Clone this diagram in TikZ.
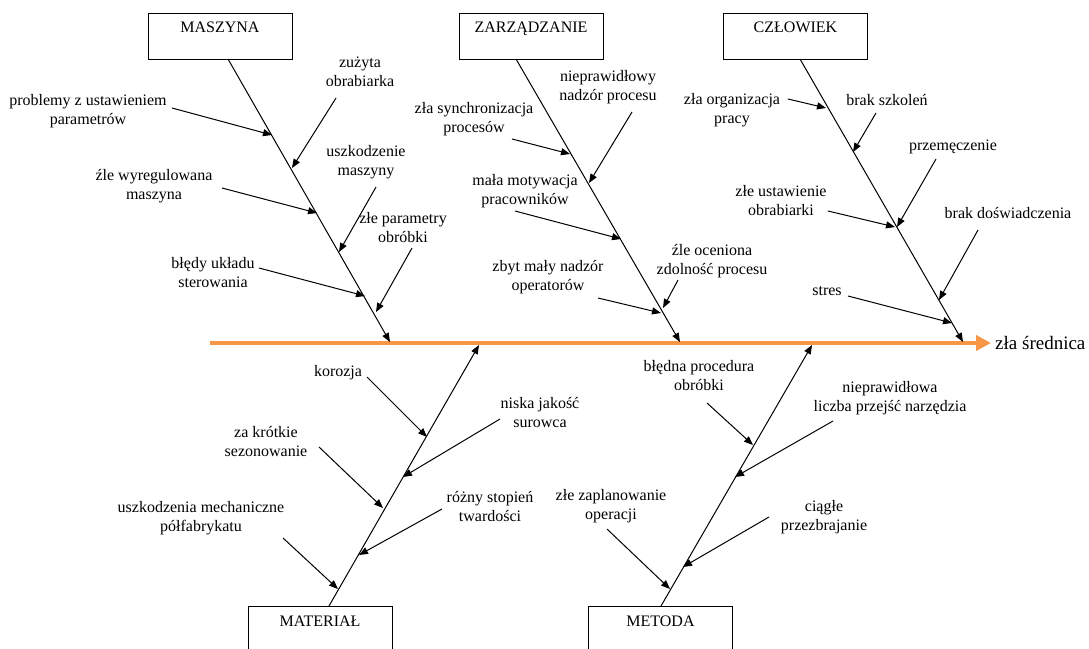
\documentclass[tikz,border=0pt]{standalone}
\usepackage{fontspec}
\setmainfont{Liberation Serif}
\usetikzlibrary{arrows.meta}
\definecolor{spineorange}{HTML}{F79646}
\tikzset{
  lbl/.style={align=center, font=\fontsize{16}{19}\selectfont, inner sep=0pt},
  cat/.style={draw, line width=1pt, minimum width=144pt, text height=15pt, text depth=23pt, inner sep=4pt, font=\fontsize{16}{19}\selectfont, anchor=north},
  catb/.style={cat, text height=16pt, text depth=44pt},
  arr/.style={line width=1pt, -{Triangle[length=9pt,width=7pt]}},
  bone/.style={line width=1pt, -{Triangle[length=9pt,width=7pt]}},
  spine/.style={line width=4pt, spineorange, -{Triangle[length=15pt,width=15pt]}},
  effect/.style={anchor=west, inner sep=4pt, font=\fontsize{19}{22}\selectfont}
}
\newcommand\fbc[5]{%
  \node[lbl] (#1) at (#2) {#3};
  \coordinate (#1s) at (#4);
  \coordinate (#1e) at (#5);
  \draw[arr] (#1s) -- (#1e);}
\begin{document}
\begin{tikzpicture}[x=1pt,y=-1pt]
\useasboundingbox (0,0) rectangle (1089,648);
\clip (0,0) rectangle (1089,648);

% spine and effect
\node[effect] (eff) at (991,343) {zła średnica};
\coordinate (sp0) at (210,343);
\draw[spine] (sp0) -- (eff.west);

% category boxes
\node[cat] (mbox) at (220,13) {MASZYNA};
\node[cat] (zbox) at (531,13) {ZARZĄDZANIE};
\node[cat] (cbox) at (795.5,13) {CZŁOWIEK};
\node[catb] (tbox) at (320,606) {MATERIAŁ};
\node[catb] (ebox) at (660.5,606) {METODA};

% bones
\coordinate (mb) at (228,59);   \coordinate (mt) at (390,342);
\coordinate (zb) at (516,59);   \coordinate (zt) at (680,342);
\coordinate (cb) at (800,59);   \coordinate (ct) at (963,342);
\coordinate (tb) at (329,606);  \coordinate (tt) at (479,345);
\coordinate (eb) at (661,606);  \coordinate (et) at (812,345);
\draw[bone] (mb) -- (mt);
\draw[bone] (zb) -- (zt);
\draw[bone] (cb) -- (ct);
\draw[bone] (tb) -- (tt);
\draw[bone] (eb) -- (et);

% MASZYNA
\fbc{m1}{360,72}{zużyta\\obrabiarka}{336,98}{292,168}
\fbc{m2}{88,111}{problemy z ustawieniem\\parametrów}{172,108}{272,135}
\fbc{m3}{154,186}{źle wyregulowana\\maszyna}{222,188}{317,213}
\fbc{m4}{366,162}{uszkodzenie\\maszyny}{376,187}{339,252}
\fbc{m5}{403,228}{złe parametry\\obróbki}{412,248}{376,312}
\fbc{m6}{213,273}{błędy układu\\sterowania}{259,268}{365,296}

% ZARZADZANIE
\fbc{z1}{608,87}{nieprawidłowy\\nadzór procesu}{632,112}{589,183}
\fbc{z2}{474,119}{zła synchronizacja\\procesów}{512,139}{570,154}
\fbc{z3}{525,191}{mała motywacja\\pracowników}{515,211}{621,239}
\fbc{z4}{548,277}{zbyt mały nadzór\\operatorów}{598,298}{661,313}
\fbc{z5}{712,261}{źle oceniona\\zdolność procesu}{678,280}{663,308}

% CZLOWIEK
\fbc{c1}{732,110}{zła organizacja\\pracy}{788,99}{826,108}
\fbc{c2}{887,100}{brak szkoleń}{876,113}{853,152}
\fbc{c3}{953,147}{przemęczenie}{936,159}{897,227}
\fbc{c4}{781,201}{złe ustawienie\\obrabiarki}{828,211}{895,227}
\fbc{c5}{1008,213}{brak doświadczenia}{978,230}{939,300}
\fbc{c6}{827,291}{stres}{848,296}{952,323}

% MATERIAL
\fbc{t1}{338,373}{korozja}{367,377}{427,437}
\fbc{t2}{540,413}{niska jakość\\surowca}{500,419}{403,477}
\fbc{t3}{266,442}{za krótkie\\sezonowanie}{319,447}{383,508}
\fbc{t4}{490,507}{różny stopień\\twardości}{442,509}{359,555}
\fbc{t5}{201,518}{uszkodzenia mechaniczne\\półfabrykatu}{283,538}{338,589}

% METODA
\fbc{e1}{699,376}{błędna procedura\\obróbki}{707,403}{753,445}
\fbc{e2}{890,398}{nieprawidłowa\\liczba przejść narzędzia}{833,421}{735,477}
\fbc{e3}{824,517}{ciągłe\\przezbrajanie}{769,517}{683,567}
\fbc{e4}{611,506}{złe zaplanowanie\\operacji}{607,529}{670,589}
\end{tikzpicture}
\end{document}
